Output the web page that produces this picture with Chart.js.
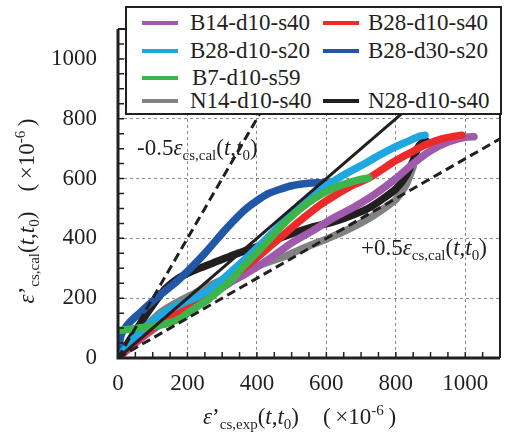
<!DOCTYPE html>
<html>
<head>
<meta charset="utf-8">
<script src="https://cdn.jsdelivr.net/npm/chart.js@4.4.1/dist/chart.umd.min.js"></script>
<style>
  body { margin: 0; background: #fff; font-family: 'Liberation Serif'; }
  #wrap { position: relative; width: 509px; height: 434px; color: #231f20; }
  #shrinkChart { position: absolute; left: 0; top: 0; }
  .txt { position: absolute; font-family: 'Liberation Serif'; font-size: 23px; line-height: 23px; white-space: nowrap; }
  .txt sub { font-size: 15px; position: relative; top: 5px; vertical-align: baseline; }
  .txt sup { font-size: 15px; position: relative; top: -9px; vertical-align: baseline; }
  .legend { position: absolute; left: 125px; top: 6px; width: 373px; height: 105px; border: 2px solid #231f20; background: #fff; }
  .legend .sw { position: absolute; width: 36px; height: 4px; }
  .legend .lb { position: absolute; font-family: 'Liberation Serif'; font-size: 23px; line-height: 23px; white-space: nowrap; }
</style>
</head>
<body>
<div id="wrap">
  <canvas id="shrinkChart" width="509" height="434"></canvas>

  <div class="txt" style="left:137px; top:136px;">-0.5<i>ε</i><sub>cs,cal</sub>(<i>t</i>,<i>t</i><sub>0</sub>)</div>
  <div class="txt" style="left:361px; top:236px;">+0.5<i>ε</i><sub>cs,cal</sub>(<i>t</i>,<i>t</i><sub>0</sub>)</div>

  <div class="txt" style="left:203px; top:405px;"><i>ε</i>’<sub>cs,exp</sub>(<i>t</i>,<i>t</i><sub>0</sub>)<span style="margin-left:24px">(</span>&thinsp;×10<sup>-6</sup>&thinsp;)</div>
  <div class="txt" style="left:-122px; top:198px; width:300px; text-align:center; transform:rotate(-90deg);"><i>ε</i>’<sub>cs,cal</sub>(<i>t</i>,<i>t</i><sub>0</sub>)<span style="margin-left:20px">(</span>&thinsp;×10<sup>-6</sup>&thinsp;)</div>

  <div class="legend" id="legend"></div>
</div>

<script>
// series: [strain exp, strain cal] x 10^-6
var seriesNames = ['B14-d10-s40', 'B28-d10-s40', 'B28-d10-s20', 'B28-d30-s20', 'B7-d10-s59', 'N14-d10-s40', 'N28-d10-s40'];
var seriesColors = ['#a05aab', '#ed2a2a', '#1ea7e1', '#2157a6', '#3db54b', '#828282', '#231f20'];

var b14d10s40 = [[0,0],[50,50],[100,95],[150,132],[200,165],[260,205],[320,250],[380,290],[440,335],[500,385],[560,425],[620,468],[680,505],[740,548],[800,600],[850,650],[900,693],[950,722],[1000,738],[1025,740]];
var b28d10s40 = [[0,0],[50,55],[100,100],[150,135],[200,165],[240,195],[280,230],[340,280],[400,335],[460,395],[520,455],[580,510],[620,540],[680,580],[720,600],[760,630],[800,660],[840,685],[880,710],[930,732],[970,742],[990,745]];
var b28d10s20 = [[0,0],[20,30],[50,70],[90,115],[130,150],[175,178],[230,205],[270,235],[300,262],[356,320],[400,368],[461,437],[528,512],[586,565],[644,608],[711,650],[740,670],[797,705],[836,725],[870,742],[884,745]];
var b28d30s20 = [[0,0],[3,40],[10,80],[30,115],[60,148],[110,200],[175,262],[250,350],[310,430],[370,500],[430,548],[500,576],[570,586],[615,585]];
var b7d10s59 = [[0,92],[40,97],[100,106],[140,115],[180,133],[216,163],[260,196],[293,228],[330,265],[360,305],[400,352],[437,398],[470,440],[504,478],[540,512],[571,537],[610,562],[648,580],[690,595],[722,602]];
var n14d10s40 = [[0,0],[40,55],[80,105],[120,150],[160,180],[210,210],[260,240],[320,272],[394,305],[480,340],[540,370],[605,400],[660,428],[716,462],[760,495],[800,530],[830,580],[850,640]];
var n28d10s40 = [[0,0],[20,35],[50,90],[90,160],[135,230],[175,268],[230,298],[290,325],[340,348],[408,375],[475,405],[552,435],[620,455],[680,480],[720,500],[760,530],[800,565],[830,610],[850,660],[862,700],[875,720],[888,725]];

// reference lines: cal = exp, cal = exp/(1-0.5), cal = exp/(1+0.5)
var equalLine = [[0,0],[1100,1100]];
var upperLine = [[0,0],[550,1100]];
var lowerLine = [[0,0],[1100,733]];

var axisSteps = [0,50,100,150,200,250,300,350,400,450,500,550,600,650,700,750,800,850,900,950,1000,1050,1100];
var tickLabels = [0,200,400,600,800,1000];

var seriesData = [b14d10s40, b28d10s40, b28d10s20, b28d30s20, b7d10s59, n14d10s40, n28d10s40];

function toPts(arr) { return arr.map(p => ({ x: p[0], y: p[1] })); }

// legend (html, overlays the top of the plot like the original)
var legendSlots = [[0,0],[1,0],[0,1],[1,1],[0,2],[0,3],[1,3]];
var rowTop = [15, 43, 70, 93];
var legend = document.getElementById('legend');
seriesNames.forEach(function (name, i) {
    var col = legendSlots[i][0], row = legendSlots[i][1];
    var sw = document.createElement('div');
    sw.className = 'sw';
    sw.style.background = seriesColors[i];
    sw.style.left = (col ? 196 : 15) + 'px';
    sw.style.top = (rowTop[row] - 2) + 'px';
    legend.appendChild(sw);
    var lb = document.createElement('div');
    lb.className = 'lb';
    lb.textContent = name;
    lb.style.left = (col ? 241 : (row == 2 ? 65 : 63)) + 'px';
    lb.style.top = (rowTop[row] - 12) + 'px';
    legend.appendChild(lb);
});

// drawing order: index 0 ends up on top
var drawOrder = [4, 2, 1, 0, 3, 6, 5];

var datasets = [
    { data: toPts(equalLine), borderColor: '#231f20', borderWidth: 3 },
    { data: toPts(upperLine), borderColor: '#231f20', borderWidth: 3, borderDash: [9, 5] },
    { data: toPts(lowerLine), borderColor: '#231f20', borderWidth: 3, borderDash: [9, 5] }
];
drawOrder.forEach(function (i) {
    datasets.push({
        label: seriesNames[i],
        data: toPts(seriesData[i]),
        borderColor: seriesColors[i],
        borderWidth: 7.5,
        tension: 0.2,
        borderCapStyle: 'round',
        borderJoinStyle: 'round'
    });
});

var frame = {
    id: 'frame',
    afterDatasetsDraw: function (chart) {
        var ctx = chart.ctx, a = chart.chartArea;
        var x = chart.scales.x, y = chart.scales.y;
        ctx.save();
        ctx.strokeStyle = '#231f20';
        ctx.lineWidth = 1.5;
        ctx.beginPath();
        axisSteps.forEach(function (v) {
            var px = x.getPixelForValue(v);
            ctx.moveTo(px, a.bottom);
            ctx.lineTo(px, a.bottom - 6);
            var py = y.getPixelForValue(v);
            ctx.moveTo(a.left, py);
            ctx.lineTo(a.left + 6, py);
        });
        ctx.stroke();
        ctx.lineWidth = 2;
        ctx.beginPath();
        ctx.moveTo(a.left, a.top);
        ctx.lineTo(a.right, a.top);
        ctx.lineTo(a.right, a.bottom);
        ctx.stroke();
        ctx.lineWidth = 3;
        ctx.beginPath();
        ctx.moveTo(a.left, a.top);
        ctx.lineTo(a.left, a.bottom);
        ctx.lineTo(a.right, a.bottom);
        ctx.stroke();
        ctx.restore();
    }
};

Chart.defaults.font.family = 'Liberation Serif';
Chart.defaults.font.size = 23;
Chart.defaults.color = '#231f20';

function gridColor(c) {
    return (c.tick && c.tick.value > 0 && c.tick.value < 1100 && c.tick.value % 200 === 0) ? '#8a8a8a' : 'rgba(0,0,0,0)';
}

var ctx = document.getElementById('shrinkChart').getContext('2d');
var myChart = new Chart(ctx, {
    type: 'scatter',
    data: { datasets: datasets },
    options: {
        responsive: false,
        animation: false,
        events: [],
        datasets: {
            scatter: { showLine: true, pointRadius: 0, fill: false }
        },
        layout: {
            padding: { left: 0, right: 9, top: 29, bottom: 0 }
        },
        plugins: {
            legend: { display: false },
            tooltip: { enabled: false }
        },
        scales: {
            x: {
                type: 'linear',
                min: 0,
                max: 1100,
                // fixed axis box so the plot area lands where the original has it
                afterFit: function (s) { s.height = 76; s.paddingLeft = 0; s.paddingRight = 0; },
                ticks: {
                    stepSize: 50,
                    autoSkip: false,
                    maxRotation: 0,
                    minRotation: 0,
                    padding: 12,
                    font: { family: 'Liberation Serif', size: 23 },
                    callback: function (v) { return tickLabels.includes(v) ? String(v) : ''; }
                },
                grid: {
                    drawTicks: false,
                    lineWidth: 1,
                    color: gridColor
                },
                border: { display: false, dash: [3, 3] }
            },
            y: {
                type: 'linear',
                min: 0,
                max: 1100,
                afterFit: function (s) { s.width = 118; s.paddingTop = 0; s.paddingBottom = 0; },
                ticks: {
                    stepSize: 50,
                    autoSkip: false,
                    padding: 21,
                    font: { family: 'Liberation Serif', size: 23 },
                    callback: function (v) { return tickLabels.includes(v) ? String(v) : ''; }
                },
                grid: {
                    drawTicks: false,
                    lineWidth: 1,
                    color: gridColor
                },
                border: { display: false, dash: [3, 3] }
            }
        }
    },
    plugins: [frame]
});
</script>
</body>
</html>
